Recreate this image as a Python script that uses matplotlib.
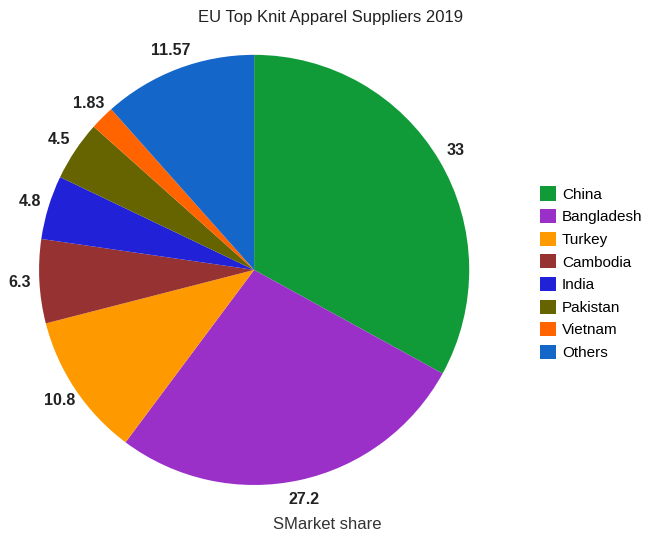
import matplotlib.pyplot as plt

plt.rcParams['font.family'] = ['Liberation Sans', 'DejaVu Sans']

# Data
countries = ['China', 'Bangladesh', 'Turkey', 'Cambodia', 'India', 'Pakistan', 'Vietnam', 'Others']
shares = [33, 27.2, 10.8, 6.3, 4.8, 4.5, 1.83, 11.57]
share_labels = ['33', '27.2', '10.8', '6.3', '4.8', '4.5', '1.83', '11.57']
colors = ['#109b38', '#9b30c9', '#ff9900', '#973232', '#2121d8', '#656400', '#ff6400', '#1566c9']

fig = plt.figure(figsize=(6.46, 5.35), dpi=100)
ax = fig.add_axes([0.0604, 0.0935, 0.666, 0.804])

wedges, texts = ax.pie(shares, labels=share_labels, colors=colors,
                       startangle=90, counterclock=False,
                       labeldistance=1.09, radius=1,
                       wedgeprops=dict(linewidth=0))
for t in texts:
    t.set_fontsize(11.5)
    t.set_fontweight('bold')
    t.set_color('#222222')
    t.set_ha('center')
ax.set_xlim(-1, 1)
ax.set_ylim(-1, 1)
ax.set_aspect('equal')

fig.text(0.511, 0.968, 'EU Top Knit Apparel Suppliers 2019', ha='center', va='center',
         fontsize=12, color='#222222')
fig.text(0.506, 0.019, 'SMarket share', ha='center', va='center',
         fontsize=12, color='#333333')

fig.legend(wedges, countries, loc='upper left', bbox_to_anchor=(0.826, 0.663),
           frameon=False, fontsize=11, handlelength=1.05, handleheight=1.05,
           handletextpad=0.4, labelspacing=0.48, borderaxespad=0)

plt.savefig('out.png', dpi=100)
